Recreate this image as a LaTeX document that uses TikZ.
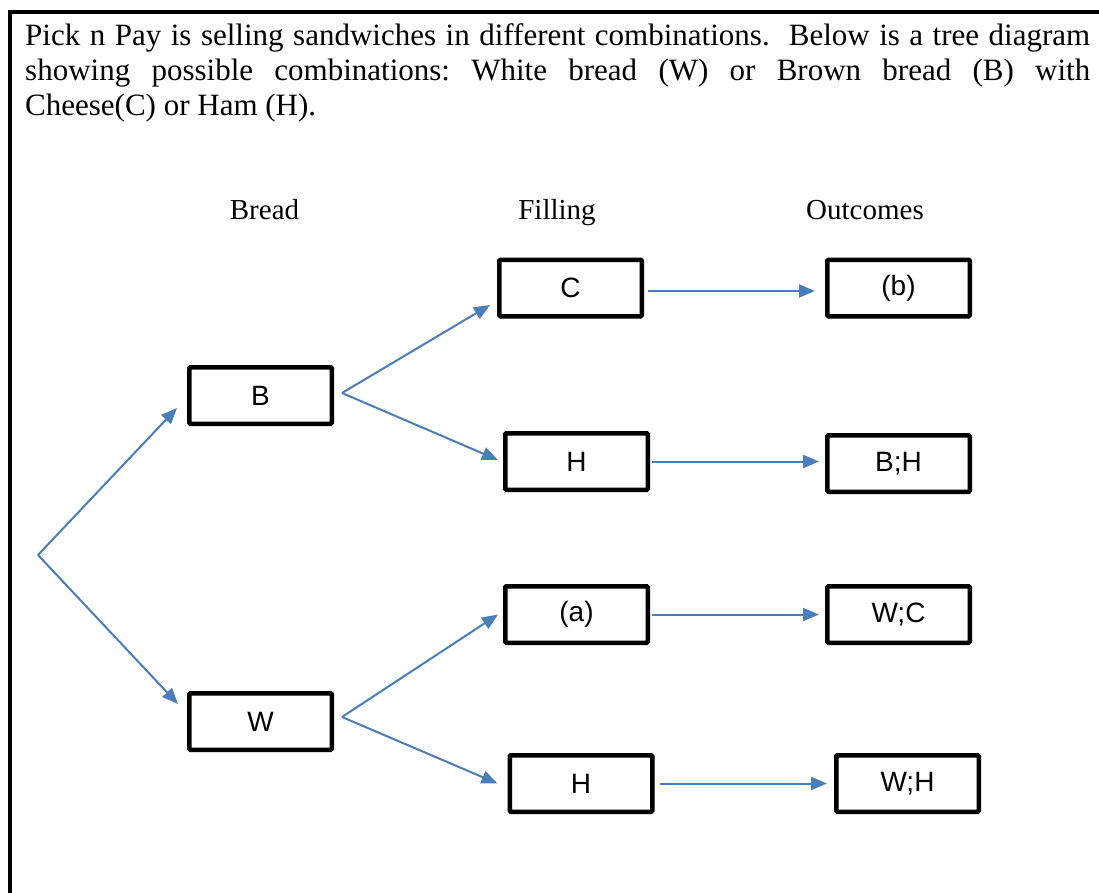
\documentclass[tikz,border=0pt]{standalone}
\usepackage{fontspec}
\setmainfont{Liberation Serif}
\newfontfamily\boxfont{Liberation Sans}
\definecolor{arrowblue}{RGB}{74, 126, 187}
\usetikzlibrary{arrows.meta, calc}

\begin{document}
\begin{tikzpicture}[x=1pt, y=-1pt,
    box/.style={draw, line width=4.5pt, rounded corners=1pt, minimum width=142.5pt,
      minimum height=56.5pt, inner sep=0pt, font=\boxfont\fontsize{28}{28}\selectfont},
    head/.style={anchor=base, font=\fontsize{29}{29}\selectfont},
    link/.style={draw=arrowblue, line width=2pt, -{Triangle[length=16pt, width=13pt]}}]
  \useasboundingbox (0,0) rectangle (1099,893);

  % Frame
  \draw[line width=4pt] (1099,12) -- (9.5,12) -- (9.5,893);

  % Question text
  \node[anchor=north west, inner sep=0pt, text width=1065pt, align=justify,
    font=\fontsize{31}{35}\selectfont\frenchspacing] (question) at (25,23)
    {Pick n Pay is selling sandwiches in different combinations.\ \ Below is a tree diagram\linebreak
     showing possible combinations: White bread (W) or Brown bread (B) with\linebreak
     Cheese(C) or Ham (H).};

  % Column heads
  \node[head] (hbread) at (264.5,219) {Bread};
  \node[head] (hfill) at (557,219) {Filling};
  \node[head] (hout) at (865,219) {Outcomes};

  % Boxes
  \coordinate (root) at (38,555);
  \node[box] (B) at (260.5,395.5) {B};
  \node[box] (W) at (260.5,721.5) {W};
  \node[box] (C) at (570.5,288) {C};
  \node[box] (HB) at (576.5,461.5) {H};
  \node[box] (fa) at (576.5,614.5) {(a)};
  \node[box] (HW) at (581,783.5) {H};
  \node[box] (ob) at (898.5,288) {(b)};
  \node[box] (BH) at (898.5,463.5) {B;H};
  \node[box] (WC) at (898.5,614.5) {W;C};
  \node[box] (WH) at (907.5,783.5) {W;H};

  % Branches
  \draw[link] (root) -- ($(B.west)+(-10,12.5)$);
  \draw[link] (root) -- ($(W.west)+(-9,-17.5)$);
  \draw[link] ($(B.east)+(8,-2.5)$) -- ($(C.west)+(-7,17)$);
  \draw[link] ($(B.east)+(8,-2.5)$) -- ($(HB.west)+(-5,-1.5)$);
  \draw[link] ($(W.east)+(8,-4.5)$) -- ($(fa.west)+(-5,0)$);
  \draw[link] ($(W.east)+(8,-4.5)$) -- ($(HW.west)+(-10,0)$);

  % Outcomes
  \draw[link] ($(C.east)+(4,3)$) -- ($(ob.west)+(-10,3)$);
  \draw[link] ($(HB.east)+(2,0)$) -- ($(BH.west)+(-6,-2)$);
  \draw[link] ($(fa.east)+(2,0)$) -- ($(WC.west)+(-6,0)$);
  \draw[link] ($(HW.east)+(5,0)$) -- ($(WH.west)+(-7,0)$);
\end{tikzpicture}
\end{document}
